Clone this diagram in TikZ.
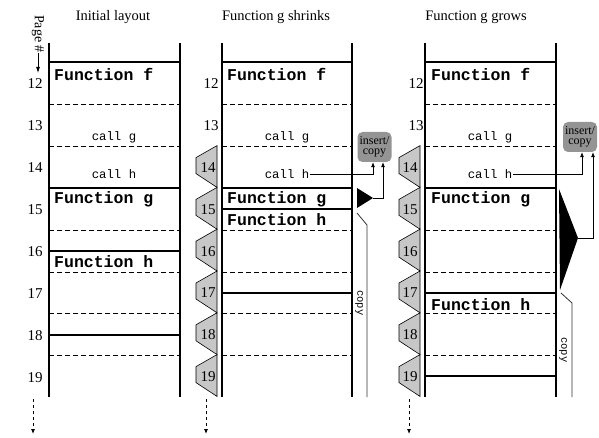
\documentclass[tikz,border=0pt]{standalone}
\usepackage{fontspec}
\setmainfont{Liberation Serif}
\setmonofont{Liberation Mono}
\usetikzlibrary{arrows.meta}
\begin{document}
\begin{tikzpicture}[x=1pt,y=-1pt,
  wall/.style={line width=1.6pt},
  solidh/.style={line width=1.6pt},
  dashh/.style={line width=0.8pt, dash pattern=on 4.5pt off 3.5pt},
  func/.style={font=\fontsize{16.5}{18}\selectfont\ttfamily\bfseries, anchor=west, inner sep=0pt},
  callt/.style={font=\fontsize{12.3}{14}\selectfont\ttfamily, inner sep=1pt},
  num/.style={font=\fontsize{15}{16}\selectfont, inner sep=0pt},
  ttl/.style={font=\fontsize{14.5}{16}\selectfont, inner sep=0pt},
  tabs/.style={draw, fill=black!22, line width=0.6pt},
  ibox/.style={fill=black!42, rounded corners=5pt, minimum width=34pt, minimum height=30pt, align=center, inner sep=1pt, font=\fontsize{12}{10.5}\selectfont},
  tip/.style={-{Latex[length=5pt,width=4pt]}, line width=0.7pt},
  copyl/.style={draw=black!80, line width=0.8pt},
  copyt/.style={font=\fontsize{10.5}{11}\selectfont\ttfamily, rotate=-90, inner sep=0pt},
  more/.style={dash pattern=on 3pt off 3pt, line width=0.8pt, -{Latex[length=5pt,width=4pt]}}
]
\useasboundingbox (0,0) rectangle (599,438);

% ---------- titles ----------
\node[ttl] (t1) at (113,17) {Initial layout};
\node[ttl] (t2) at (276,17) {Function g shrinks};
\node[ttl] (t3) at (476,17) {Function g grows};

% ---------- page label ----------
\node[font=\fontsize{14}{14}\selectfont, rotate=-90, inner sep=0pt] (pg) at (38,34) {Page \#};
\coordinate (pgend) at (38,73);
\draw[-{Latex[length=6pt,width=4pt]}, line width=0.8pt] (pg.east) -- (pgend);

% ---------- panel 1 ----------
\draw[wall] (49,43) -- (49,397);
\draw[wall] (180,43) -- (180,397);
\foreach \y in {62,188,251,335} \draw[solidh] (49,\y) -- (180,\y);
\foreach \y in {104,146,230,272,313,355} \draw[dashh] (49,\y) -- (180,\y);
\foreach \n [count=\i from 0] in {12,...,19} \node[num] (pa\n) at (35,84+41.9*\i) {\n};
\node[func] (f1) at (54,74) {Function f};
\node[callt] (g1c) at (114,137) {call g};
\node[callt] (h1c) at (114,174) {call h};
\node[func] (g1) at (54,199) {Function g};
\node[func] (h1) at (54,262) {Function h};
\coordinate (m1s) at (33,399);
\coordinate (m1e) at (33,434);
\draw[more] (m1s) -- (m1e);

% ---------- panel 2 ----------
\foreach \n [count=\i from 2] in {14,...,19} {
  \pgfmathsetmacro\t{62+41.8*\i}
  \draw[tabs] (217,\t) -- (196,\t+12) -- (196,\t+28) -- (217,\t+41.8) -- cycle;
  \node[num] (pb\n) at (208,\t+22) {\n};
}
\node[num] (pb12) at (211,84) {12};
\node[num] (pb13) at (211,126) {13};
\draw[wall] (222,43) -- (222,397);
\draw[wall] (352,43) -- (352,397);
\foreach \y in {62,188,209,293} \draw[solidh] (222,\y) -- (352,\y);
\foreach \y in {104,146,230,272,313,355} \draw[dashh] (222,\y) -- (352,\y);
\node[func] (f2) at (227,74) {Function f};
\node[callt] (g2c) at (287,137) {call g};
\node[callt] (h2c) at (287,174) {call h};
\node[func] (g2) at (227,199) {Function g};
\node[func] (h2) at (227,220) {Function h};
\node[ibox] (ib2) at (374.5,147) {insert/\\copy};
\fill (357,188) -- (357,208) -- (373,198) -- cycle;
\coordinate (tp2) at (373,198);
\draw[tip] (h2c.east) -| ([xshift=-1.5pt]ib2.south);
\draw[tip] (tp2) -| ([xshift=8.5pt]ib2.south);
\draw[copyl] (357,213) -- (367,225) -- (367,397);
\node[copyt] (cp2) at (359,303) {copy};
\coordinate (m2s) at (206,399);
\coordinate (m2e) at (206,434);
\draw[more] (m2s) -- (m2e);

% ---------- panel 3 ----------
\foreach \n [count=\i from 2] in {14,...,19} {
  \pgfmathsetmacro\t{62+41.8*\i}
  \draw[tabs] (420,\t) -- (399,\t+12) -- (399,\t+28) -- (420,\t+41.8) -- cycle;
  \node[num] (pc\n) at (410,\t+22) {\n};
}
\node[num] (pc12) at (416,84) {12};
\node[num] (pc13) at (416,126) {13};
\draw[wall] (425,43) -- (425,397);
\draw[wall] (556,43) -- (556,397);
\foreach \y in {62,188,293,376} \draw[solidh] (425,\y) -- (556,\y);
\foreach \y in {104,146,230,272,313,355} \draw[dashh] (425,\y) -- (556,\y);
\node[func] (f3) at (431,74) {Function f};
\node[callt] (g3c) at (490,137) {call g};
\node[callt] (h3c) at (490,174) {call h};
\node[func] (g3) at (431,199) {Function g};
\node[func] (h3) at (431,305) {Function h};
\node[ibox] (ib3) at (580,137) {insert/\\copy};
\fill (559,189) -- (578,238) -- (560,290) -- cycle;
\coordinate (tp3) at (578,238);
\draw[tip] (h3c.east) -| ([xshift=2pt]ib3.south);
\draw[tip] (tp3) -| ([xshift=13pt]ib3.south);
\draw[copyl] (561,293) -- (572,303) -- (572,397);
\node[copyt] (cp3) at (563,350) {copy};
\coordinate (m3s) at (409,399);
\coordinate (m3e) at (409,434);
\draw[more] (m3s) -- (m3e);
\end{tikzpicture}
\end{document}
